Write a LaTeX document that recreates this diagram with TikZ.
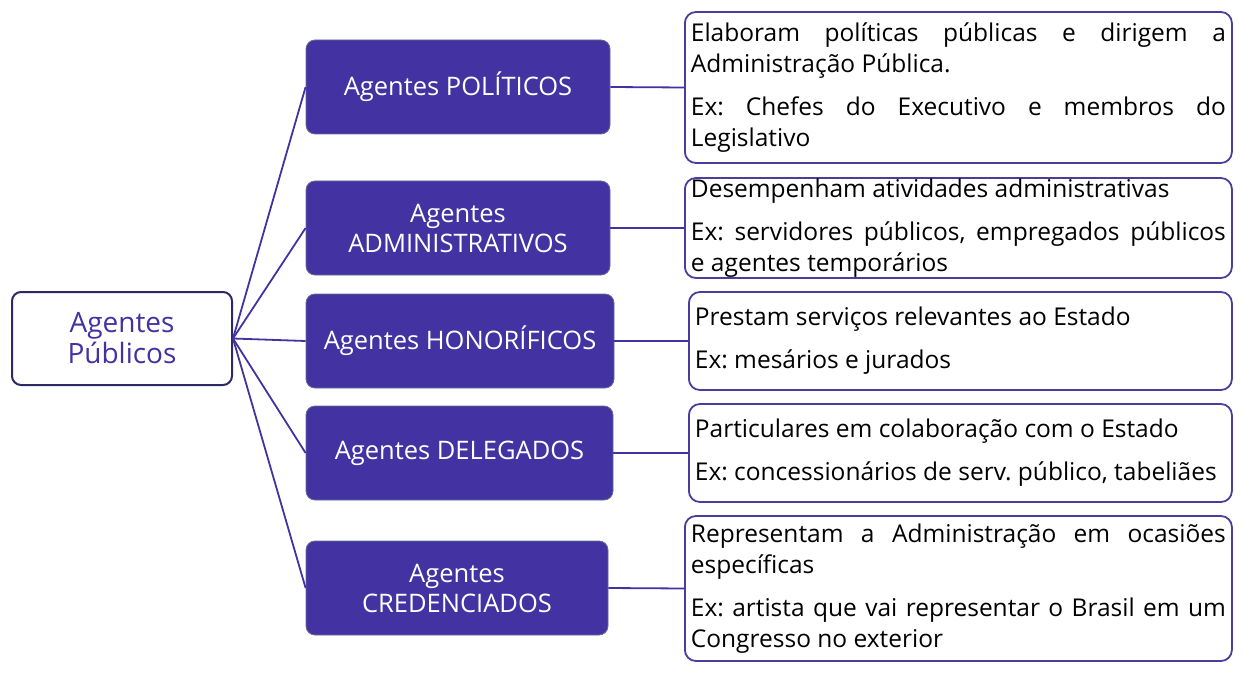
\documentclass[tikz,border=0pt]{standalone}
\usepackage{fontspec}
\setmainfont{Open Sans}
\usetikzlibrary{positioning}
\hyphenpenalty=10000
\exhyphenpenalty=10000
\frenchspacing

\definecolor{roxo}{HTML}{4333A2}
\definecolor{roxoescuro}{HTML}{2C2966}
\definecolor{borda}{HTML}{4B3C9E}

\tikzset{
  raiz/.style = {draw=roxoescuro, line width=2pt, fill=white, rounded corners=9pt,
    text=roxo, align=center, minimum width=220pt, minimum height=93pt,
    font=\fontsize{28}{31}\selectfont},
  tipo/.style = {draw=roxoescuro!70, line width=0.8pt, fill=roxo, rounded corners=9pt,
    text=white, align=center, minimum width=304pt, minimum height=94pt,
    font=\fontsize{25.5}{30}\selectfont},
  descricao/.style = {draw=borda, line width=1.8pt, rounded corners=11pt, anchor=west,
    align=justify, inner xsep=6pt, inner ysep=0pt,
    font=\fontsize{24.5}{31}\selectfont},
  liga/.style = {draw=roxo, line width=1.8pt},
}

\begin{document}
\begin{tikzpicture}[x=1pt, y=-1pt]
    \useasboundingbox (0,0) rectangle (1243,674);

    % classificacao
    \node[raiz](AP) at (122,338.5) {Agentes\\Públicos};

    \node[tipo](POL) at (458,87) {Agentes POLÍTICOS};
    \node[tipo](ADM) at (458,228) {Agentes\\ADMINISTRATIVOS};
    \node[tipo, minimum width=308pt](HON) at (460,341) {Agentes HONORÍFICOS};
    \node[tipo, minimum width=307pt](DEL) at (459.5,453) {Agentes DELEGADOS};
    \node[tipo, minimum width=302pt](CRE) at (457,588) {Agentes\\CREDENCIADOS};

    % descricoes
    \node[descricao, text width=535pt, minimum height=151pt](dPOL) at (684,87.5)
        {Elaboram políticas públicas e dirigem a Administração Pública.\\[12pt]
         Ex: Chefes do Executivo e membros do Legislativo};
    \node[descricao, text width=535pt, minimum height=100pt](dADM) at (684,228)
        {Desempenham atividades administrativas\\[12pt]
         Ex: servidores públicos, empregados públicos\linebreak e agentes temporários};
    \node[descricao, text width=531pt, minimum height=98pt](dHON) at (688,341)
        {Prestam serviços relevantes ao Estado\\[12pt]
         Ex: mesários e jurados};
    \node[descricao, text width=531pt, minimum height=98pt](dDEL) at (688,453)
        {Particulares em colaboração com o Estado\\[12pt]
         Ex: concessionários de serv. público, tabeliães};
    \node[descricao, text width=535pt, minimum height=145pt](dCRE) at (684,588.5)
        {Representam a Administração em ocasiões específicas\\[12pt]
         Ex: artista que vai representar o Brasil em um Congresso no exterior};

    % ligacoes
    \foreach \t in {POL,ADM,HON,DEL,CRE}{
        \path[liga](AP.east)to(\t.west);
        \path[liga](\t.east)to(d\t.west);
    }
\end{tikzpicture}
\end{document}
